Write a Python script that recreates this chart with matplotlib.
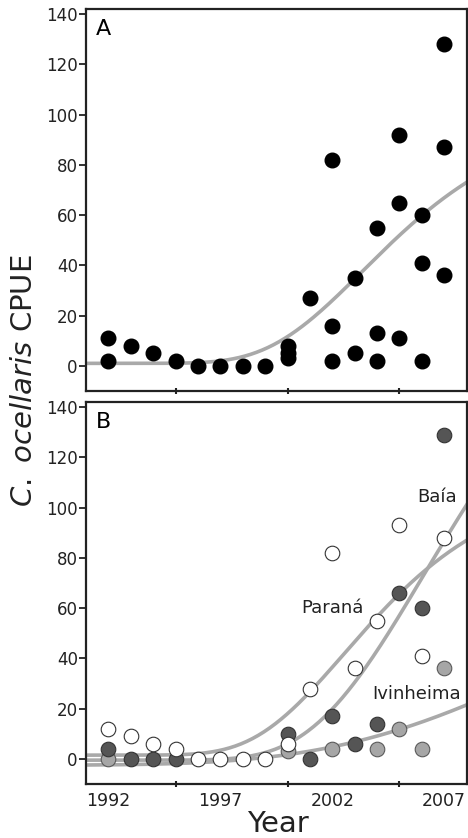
import numpy as np
import matplotlib
matplotlib.use("Agg")
import matplotlib.pyplot as plt

# ---------------- datos ----------------
# Panel A: todos los puntos juntos
anios_a = [1992, 1992, 1993, 1994, 1995, 1996, 1997, 1998, 1999, 2000, 2000, 2000,
           2001, 2002, 2002, 2002, 2003, 2003, 2004, 2004, 2004,
           2005, 2005, 2005, 2006, 2006, 2006, 2007, 2007, 2007]
cpue_a = [11, 2, 8, 5, 2, 0, 0, 0, 0, 8, 5, 3,
          27, 82, 16, 2, 35, 5, 55, 13, 2,
          92, 65, 11, 60, 41, 2, 128, 87, 36]

# Panel B: por sitio
anios_parana = [1992, 1993, 1994, 1995, 1996, 1997, 1998, 1999, 2000, 2001, 2002, 2003, 2004, 2005, 2006, 2007]
cpue_parana = [12, 9, 6, 4, 0, 0, 0, 0, 6, 28, 82, 36, 55, 93, 41, 88]

anios_baia = [1992, 1993, 1994, 1995, 2000, 2001, 2002, 2003, 2004, 2005, 2006, 2007]
cpue_baia = [4, 0, 0, 0, 10, 0, 17, 6, 14, 66, 60, 129]

anios_ivinheima = [1992, 2000, 2002, 2004, 2005, 2006, 2007]
cpue_ivinheima = [0, 3, 4, 4, 12, 4, 36]

# curvas de tendencia (Gompertz: base, K, r, t0)
ajuste_a = (1.0, 100, 0.24, 2003.36)
ajuste_parana = (1.5, 110, 0.252, 2002.54)
ajuste_baia = (-0.5, 200, 0.2025, 2006.08)
ajuste_ivinheima = (-2.5, 150, 0.0835, 2015.26)

etiquetas_anio = [1992, 1997, 2002, 2007]
ticks_anio = [1995, 2000, 2005]
ticks_y = [0, 20, 40, 60, 80, 100, 120, 140]

GRIS_LINEA = "#a9a9a9"


def curva(param):
    base, k, r, t0 = param
    xs = np.linspace(1991, 2008, 200)
    return xs, base + k * np.exp(-np.exp(-r * (xs - t0)))


def formato_eje(ax, etiquetas=True):
    ax.set_xlim(1991, 2008)
    ax.set_ylim(-10, 142)
    ax.set_yticks(ticks_y)
    ax.set_xticks(etiquetas_anio)
    ax.set_xticks(ticks_anio, minor=True)
    ax.tick_params(axis="x", which="major", length=0, pad=6, labelsize=12.5, colors="#222222")
    ax.tick_params(axis="x", which="minor", length=5, width=1.5, direction="inout", color="#222222")
    ax.tick_params(axis="y", length=5, width=1.3, pad=1, labelsize=12, colors="#222222")
    if not etiquetas:
        ax.set_xticklabels([])
    for s in ax.spines.values():
        s.set_linewidth(1.6)
        s.set_color("#222222")


fig = plt.figure(figsize=(4.68, 8.38), dpi=100)
ax1 = fig.add_axes([0.184, 0.5334, 0.813, 0.4559])
ax2 = fig.add_axes([0.184, 0.0644, 0.813, 0.4559])

# ---- Panel A ----
xs, ys = curva(ajuste_a)
ax1.plot(xs, ys, color=GRIS_LINEA, lw=2.6, zorder=1)
ax1.plot(anios_a, cpue_a, "o", ms=10.5, color="black", zorder=2)
ax1.text(0.025, 0.975, "A", transform=ax1.transAxes, fontsize=16, va="top", ha="left")
formato_eje(ax1, etiquetas=False)

# ---- Panel B ----
for p in [ajuste_parana, ajuste_baia, ajuste_ivinheima]:
    xs, ys = curva(p)
    ax2.plot(xs, ys, color=GRIS_LINEA, lw=2.6, zorder=1)

ax2.plot(anios_ivinheima, cpue_ivinheima, "o", ms=10.5, mfc="#a6a6a6", mec="#5a5a5a", mew=0.8, zorder=2)
ax2.plot(anios_baia, cpue_baia, "o", ms=10.5, mfc="#555555", mec="#333333", mew=0.8, zorder=3)
ax2.plot(anios_parana, cpue_parana, "o", ms=10.5, mfc="white", mec="#333333", mew=0.8, zorder=4)

ax2.text(2006.7, 104, "Baía", fontsize=13, ha="center", va="center", color="#222222")
ax2.text(2002.0, 60, "Paraná", fontsize=13, ha="center", va="center", color="#222222")
ax2.text(2005.75, 26, "Ivinheima", fontsize=13, ha="center", va="center", color="#222222")
ax2.text(0.025, 0.975, "B", transform=ax2.transAxes, fontsize=16, va="top", ha="left")
formato_eje(ax2)

fig.text(0.052, 0.546, r"$\it{C.\ ocellaris}$ CPUE", rotation=90, fontsize=21,
         ha="center", va="center", color="#222222")
fig.text(0.594, 0.017, "Year", fontsize=21, ha="center", va="center", color="#222222")

fig.savefig("out.png", dpi=100)
